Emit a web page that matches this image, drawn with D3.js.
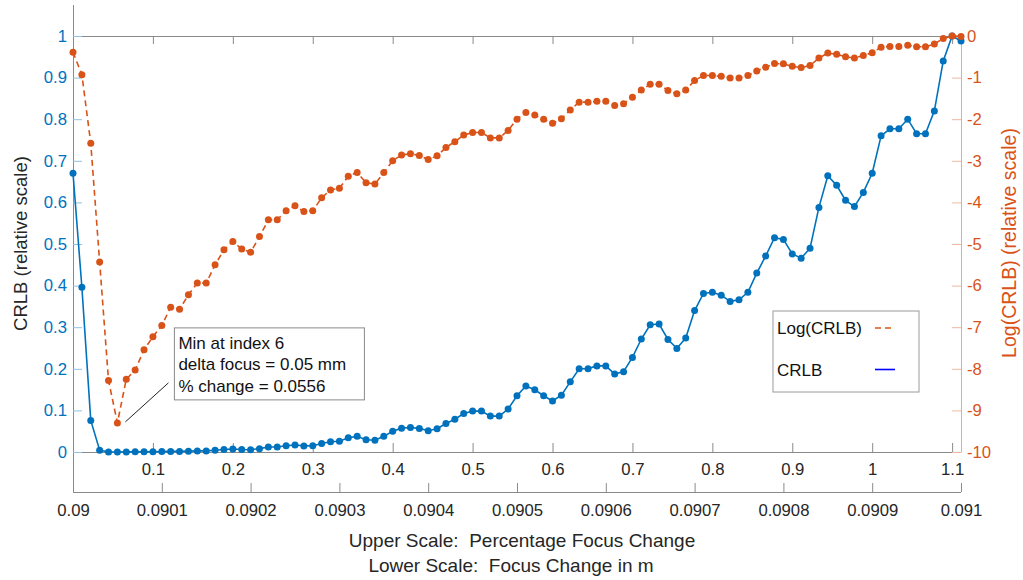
<!DOCTYPE html>
<html>
<head>
<meta charset="utf-8">
<script src="https://cdn.jsdelivr.net/npm/d3@7"></script>
<style>
  html, body { margin: 0; padding: 0; background: #fff; }
  svg { display: block; font-family: "Liberation Sans", Arial, Helvetica, sans-serif; }
  svg text { white-space: pre; }
</style>
</head>
<body>
<svg id="chart" width="1023" height="580"></svg>
<script>
// CRLB sampled at 101 focus positions, 0.09 m to 0.091 m in 0.01 mm steps
const crlb = [
  0.670, 0.396, 0.076, 0.0044, 0.00025, 0.00009, 0.00026, 0.00033, 0.00053, 0.00072,
  0.00095, 0.0015, 0.0014, 0.0020, 0.0026, 0.0026, 0.0041, 0.0059, 0.0072, 0.0060,
  0.0055, 0.0081, 0.0120, 0.0120, 0.0150, 0.0168, 0.0147, 0.0150, 0.0204, 0.0247,
  0.0257, 0.0344, 0.0376, 0.0293, 0.0284, 0.0376, 0.0498, 0.0573, 0.0590, 0.0567,
  0.0513, 0.0561, 0.0686, 0.0789, 0.0926, 0.0983, 0.0983, 0.0863, 0.0863, 0.1033,
  0.1353, 0.1588, 0.1496, 0.1353, 0.1225, 0.1367, 0.1686, 0.2000, 0.2004, 0.2070,
  0.2070, 0.1874, 0.1932, 0.2273, 0.2716, 0.3060, 0.3077, 0.2705, 0.2490, 0.2740,
  0.3400, 0.3810, 0.3840, 0.3770, 0.3620, 0.3660, 0.3840, 0.4300, 0.4710, 0.5150,
  0.5110, 0.4760, 0.4660, 0.4900, 0.5880, 0.6640, 0.6410, 0.6050, 0.5900, 0.6240,
  0.6700, 0.7600, 0.7770, 0.7770, 0.8000, 0.7650, 0.7650, 0.8200, 0.9400, 1.0000,
  0.9880
];

// Log(CRLB) at the same focus positions
const logCrlb = [
  -0.39, -0.93, -2.58, -5.43, -8.28, -9.30, -8.25, -8.03, -7.54, -7.23,
  -6.96, -6.52, -6.57, -6.22, -5.94, -5.94, -5.50, -5.14, -4.94, -5.12,
  -5.20, -4.82, -4.42, -4.42, -4.20, -4.08, -4.22, -4.20, -3.89, -3.70,
  -3.66, -3.37, -3.28, -3.53, -3.56, -3.28, -3.00, -2.86, -2.83, -2.87,
  -2.97, -2.88, -2.68, -2.54, -2.38, -2.32, -2.32, -2.45, -2.45, -2.27,
  -2.00, -1.84, -1.90, -2.00, -2.10, -1.99, -1.78, -1.59, -1.59, -1.57,
  -1.57, -1.67, -1.63, -1.47, -1.30, -1.16, -1.16, -1.31, -1.39, -1.30,
  -1.07, -0.95, -0.95, -0.97, -1.01, -1.01, -0.95, -0.84, -0.75, -0.66,
  -0.67, -0.73, -0.76, -0.71, -0.53, -0.41, -0.44, -0.50, -0.53, -0.47,
  -0.40, -0.27, -0.25, -0.25, -0.22, -0.26, -0.26, -0.19, -0.06, 0.00,
  -0.01
];

// Axis ticks and their labels
const pctTicks = [0.1, 0.2, 0.3, 0.4, 0.5, 0.6, 0.7, 0.8, 0.9, 1.0, 1.1];
const pctLabels = ["0.1", "0.2", "0.3", "0.4", "0.5", "0.6", "0.7", "0.8", "0.9", "1", "1.1"];
const focusTicks = [0.09, 0.0901, 0.0902, 0.0903, 0.0904, 0.0905, 0.0906, 0.0907, 0.0908, 0.0909, 0.091];
const focusLabels = ["0.09", "0.0901", "0.0902", "0.0903", "0.0904", "0.0905", "0.0906", "0.0907", "0.0908", "0.0909", "0.091"];
const linTicks = [0, 0.1, 0.2, 0.3, 0.4, 0.5, 0.6, 0.7, 0.8, 0.9, 1];
const linLabels = ["0", "0.1", "0.2", "0.3", "0.4", "0.5", "0.6", "0.7", "0.8", "0.9", "1"];
const logTicks = [0, -1, -2, -3, -4, -5, -6, -7, -8, -9, -10];
const logLabels = ["0", "-1", "-2", "-3", "-4", "-5", "-6", "-7", "-8", "-9", "-10"];

// Annotated minimum (1-based index 6)
const minIndex = 6;
const noteLines = ["Min at index 6", "delta focus = 0.05 mm", "% change = 0.0556"];

const seriesNames = ["Log(CRLB)", "CRLB"];

const BLUE = "#0072BD", ORANGE = "#D95319", TEXT = "#262626", AXIS = "#8a8a8a";

const svg = d3.select("#chart");
const plotLeft = 73, plotRight = 961, plotTop = 36, plotBottom = 452, lowerAxisY = 492;

const xIdx = d3.scaleLinear().domain([0, crlb.length - 1]).range([plotLeft, plotRight]);
const xPct = d3.scaleLinear().domain([0, 1.0 / 0.9]).range([plotLeft, plotRight]);
const xFocus = d3.scaleLinear().domain([0.09, 0.091]).range([plotLeft, plotRight]);
const yLin = d3.scaleLinear().domain([0, 1]).range([plotBottom, plotTop]);
const yLog = d3.scaleLinear().domain([-10, 0]).range([plotBottom, plotTop]);

// Outer axis frame: long left line and the lower focus axis
svg.append("line").attr("x1", plotLeft + 0.5).attr("x2", plotLeft + 0.5).attr("y1", 5).attr("y2", lowerAxisY)
  .attr("stroke", AXIS).attr("stroke-width", 1);

const lowerAxis = svg.append("g").attr("transform", `translate(0,${lowerAxisY})`)
  .call(d3.axisBottom(xFocus).tickValues(focusTicks)
    .tickFormat((d, i) => focusLabels[i]).tickSizeInner(-9).tickSizeOuter(0).tickPadding(12));

// Upper percentage axis (bottom and top edges of the inner box)
const upperAxis = svg.append("g").attr("transform", `translate(0,${plotBottom})`)
  .call(d3.axisBottom(xPct).tickValues(pctTicks)
    .tickFormat((d, i) => pctLabels[i]).tickSizeInner(-9).tickSizeOuter(0).tickPadding(11));

const topAxis = svg.append("g").attr("transform", `translate(0,${plotTop})`)
  .call(d3.axisTop(xPct).tickValues(pctTicks).tickFormat("").tickSizeInner(-8).tickSizeOuter(0));

[lowerAxis, upperAxis, topAxis].forEach(g => {
  g.select(".domain").attr("d", `M${plotLeft},0.5H${plotRight}`).attr("stroke", AXIS);
  g.selectAll(".tick line").attr("stroke", AXIS);
  g.selectAll(".tick text").attr("fill", TEXT).style("font-size", "16.7px");
});

// Left linear CRLB axis
const leftAxis = svg.append("g").attr("transform", `translate(${plotLeft},0)`)
  .call(d3.axisLeft(yLin).tickValues(linTicks)
    .tickFormat((d, i) => linLabels[i]).tickSizeInner(-9).tickSizeOuter(0).tickPadding(6));
leftAxis.select(".domain").remove();
leftAxis.selectAll(".tick line").attr("stroke", "#8fc0e2");
leftAxis.selectAll(".tick text").attr("fill", BLUE).style("font-size", "16.7px");

// Right log axis
const rightAxis = svg.append("g").attr("transform", `translate(${plotRight},0)`)
  .call(d3.axisRight(yLog).tickValues(logTicks)
    .tickFormat((d, i) => logLabels[i]).tickSizeInner(-9).tickSizeOuter(0).tickPadding(6));
rightAxis.select(".domain").attr("stroke", "#eda98c");
rightAxis.selectAll(".tick line").attr("stroke", "#f0b8a0");
rightAxis.selectAll(".tick text").attr("fill", ORANGE).style("font-size", "16.7px");

// CRLB series
const crlbLine = d3.line().x((d, i) => xIdx(i)).y(d => yLin(d));
svg.append("path").datum(crlb).attr("d", crlbLine)
  .attr("fill", "none").attr("stroke", BLUE).attr("stroke-width", 1.6);
svg.append("g").selectAll("circle").data(crlb).join("circle")
  .attr("cx", (d, i) => xIdx(i)).attr("cy", d => yLin(d)).attr("r", 3.5).attr("fill", BLUE);

// Log(CRLB) series
const logLine = d3.line().x((d, i) => xIdx(i)).y(d => yLog(d));
svg.append("path").datum(logCrlb).attr("d", logLine)
  .attr("fill", "none").attr("stroke", ORANGE).attr("stroke-width", 1.6)
  .attr("stroke-dasharray", "6,4");
svg.append("g").selectAll("circle").data(logCrlb).join("circle")
  .attr("cx", (d, i) => xIdx(i)).attr("cy", d => yLog(d)).attr("r", 3.5).attr("fill", ORANGE);

// Annotation for the minimum
const mx = xIdx(minIndex - 1), my = yLog(logCrlb[minIndex - 1]);
svg.append("line").attr("x1", mx + 8).attr("y1", my - 1).attr("x2", mx + 51).attr("y2", my - 40)
  .attr("stroke", "#222").attr("stroke-width", 1);
const note = svg.append("g").attr("transform", `translate(${mx + 57},${my - 95})`);
note.append("rect").attr("x", 0).attr("y", 0).attr("width", 190).attr("height", 72)
  .attr("fill", "#fff").attr("stroke", "#8a8a8a").attr("stroke-width", 1);
note.selectAll("text").data(noteLines).join("text")
  .attr("x", 4).attr("y", (d, i) => 21 + i * 21.5)
  .attr("fill", "#111").style("font-size", "17px").text(d => d);

// Legend
const legend = svg.append("g").attr("transform", "translate(773,311)");
legend.append("rect").attr("width", 146).attr("height", 81)
  .attr("fill", "#fff").attr("stroke", "#9a9a9a").attr("stroke-width", 1);
const legendStyles = [
  { color: ORANGE, dash: "6,4", y: 17 },
  { color: "#0000ff", dash: null, y: 58.5 }
];
seriesNames.forEach((name, i) => {
  const s = legendStyles[i];
  legend.append("text").attr("x", 4).attr("y", s.y + 6).attr("fill", "#111")
    .style("font-size", "17px").text(name);
  legend.append("line").attr("x1", 102).attr("x2", 122).attr("y1", s.y).attr("y2", s.y)
    .attr("stroke", s.color).attr("stroke-width", 1.6)
    .attr("stroke-dasharray", s.dash);
});

// Axis titles
svg.append("text").attr("transform", "translate(27,243.5) rotate(-90)")
  .attr("text-anchor", "middle").attr("fill", TEXT).style("font-size", "18.5px")
  .text("CRLB (relative scale)");
svg.append("text").attr("transform", "translate(1016,243) rotate(-90)")
  .attr("text-anchor", "middle").attr("fill", ORANGE).style("font-size", "19.5px")
  .text("Log(CRLB) (relative scale)");
svg.append("text").attr("x", 522).attr("y", 547).attr("text-anchor", "middle")
  .attr("fill", TEXT).style("font-size", "19px").text("Upper Scale:  Percentage Focus Change");
svg.append("text").attr("x", 511).attr("y", 572).attr("text-anchor", "middle")
  .attr("fill", TEXT).style("font-size", "19px").text("Lower Scale:  Focus Change in m");
</script>
</body>
</html>
